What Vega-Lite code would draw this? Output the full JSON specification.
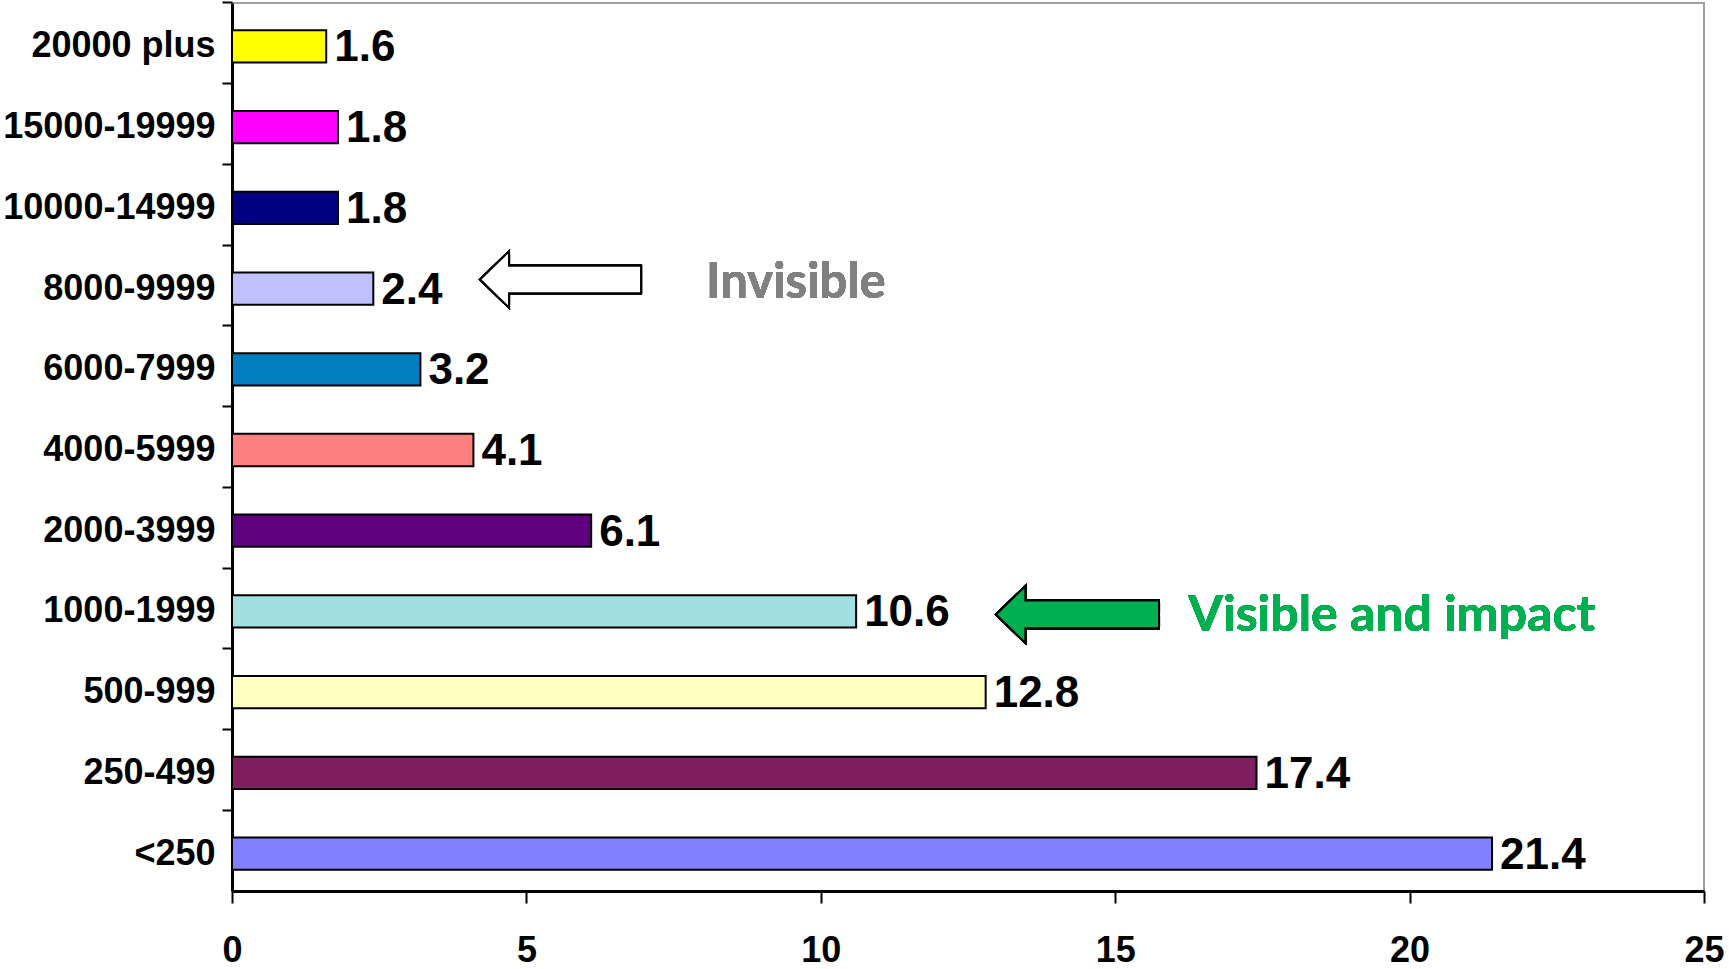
{
  "$schema": "https://vega.github.io/schema/vega-lite/v6.json",
  "autosize": {"type": "none"},
  "width": 1472,
  "height": 888,
  "padding": {"left": 232, "top": 3, "right": 25, "bottom": 78},
  "background": "white",
  "config": {
    "view": {"stroke": "#A0A0A0", "strokeWidth": 2},
    "font": "Liberation Sans"
  },
  "data": {
    "values": [
      {"range": "20000 plus", "pct": 1.6},
      {"range": "15000-19999", "pct": 1.8},
      {"range": "10000-14999", "pct": 1.8},
      {"range": "8000-9999", "pct": 2.4},
      {"range": "6000-7999", "pct": 3.2},
      {"range": "4000-5999", "pct": 4.1},
      {"range": "2000-3999", "pct": 6.1},
      {"range": "1000-1999", "pct": 10.6},
      {"range": "500-999", "pct": 12.8},
      {"range": "250-499", "pct": 17.4},
      {"range": "<250", "pct": 21.4}
    ]
  },
  "layer": [
    {
      "mark": {"type": "bar", "height": {"band": 0.4}, "stroke": "black", "strokeWidth": 2, "yOffset": 3},
      "encoding": {
        "y": {
          "field": "range", "type": "nominal",
          "sort": ["20000 plus", "15000-19999", "10000-14999", "8000-9999", "6000-7999", "4000-5999", "2000-3999", "1000-1999", "500-999", "250-499", "<250"],
          "scale": {"paddingInner": 0, "paddingOuter": 0},
          "axis": {
            "title": null, "bandPosition": 0,
            "domainColor": "black", "domainWidth": 3,
            "tickColor": "black", "tickWidth": 2, "tickSize": 10,
            "labelFont": "Liberation Sans", "labelFontWeight": "bold", "labelFontSize": 36,
            "labelColor": "black", "labelPadding": 7, "labelLimit": 400,
            "labelOffset": 3
          }
        },
        "x": {
          "field": "pct", "type": "quantitative",
          "scale": {"domain": [0, 25], "nice": false},
          "axis": {
            "title": null, "values": [0, 5, 10, 15, 20, 25], "format": "d", "grid": false,
            "domainColor": "black", "domainWidth": 3,
            "tickColor": "black", "tickWidth": 2, "tickSize": 12,
            "labelFont": "Liberation Sans", "labelFontWeight": "bold", "labelFontSize": 36,
            "labelColor": "black", "labelPadding": 30, "labelFlush": false
          }
        },
        "color": {
          "field": "range", "type": "nominal", "legend": null,
          "scale": {
            "domain": ["20000 plus", "15000-19999", "10000-14999", "8000-9999", "6000-7999", "4000-5999", "2000-3999", "1000-1999", "500-999", "250-499", "<250"],
            "range": ["#FFFF00", "#FF00FF", "#000080", "#C0C0FF", "#0080C0", "#FF8080", "#5F007F", "#A0E0E0", "#FFFFC0", "#7F1F5F", "#8080FF"]
          }
        }
      }
    },
    {
      "mark": {"type": "text", "align": "left", "baseline": "middle", "dx": 8, "dy": 2, "yOffset": 3, "font": "Liberation Sans", "fontWeight": "bold", "fontSize": 44, "color": "black"},
      "encoding": {
        "y": {"field": "range", "type": "nominal", "sort": ["20000 plus", "15000-19999", "10000-14999", "8000-9999", "6000-7999", "4000-5999", "2000-3999", "1000-1999", "500-999", "250-499", "<250"]},
        "x": {"field": "pct", "type": "quantitative"},
        "text": {"field": "pct", "type": "quantitative", "format": ".1f"}
      }
    },
    {
      "mark": {"type": "point", "filled": true, "fill": "white", "stroke": "black", "strokeWidth": 2, "opacity": 1,
        "shape": "M -1 0 L -0.64 -0.35 L -0.64 -0.17 L 1 -0.17 L 1 0.17 L -0.64 0.17 L -0.64 0.35 Z",
        "size": 25921, "yOffset": -6},
      "encoding": {
        "x": {"datum": 5.58, "type": "quantitative"},
        "y": {"datum": "8000-9999", "type": "nominal"}
      }
    },
    {
      "mark": {"type": "point", "filled": true, "fill": "#00B050", "stroke": "black", "strokeWidth": 2, "opacity": 1,
        "shape": "M -1 0 L -0.64 -0.35 L -0.64 -0.17 L 1 -0.17 L 1 0.17 L -0.64 0.17 L -0.64 0.35 Z",
        "size": 26569, "yOffset": 6},
      "encoding": {
        "x": {"datum": 14.36, "type": "quantitative"},
        "y": {"datum": "1000-1999", "type": "nominal"}
      }
    },
    {
      "mark": {"type": "text", "align": "left", "baseline": "middle", "font": "Lato", "fontWeight": "bold", "fontSize": 49, "color": "#808080", "yOffset": -3},
      "encoding": {
        "x": {"datum": 8.05, "type": "quantitative"},
        "y": {"datum": "8000-9999", "type": "nominal"},
        "text": {"value": "Invisible"}
      }
    },
    {
      "mark": {"type": "text", "align": "left", "baseline": "middle", "font": "Lato", "fontWeight": "bold", "fontSize": 50, "color": "#00B050", "yOffset": 8},
      "encoding": {
        "x": {"datum": 16.24, "type": "quantitative"},
        "y": {"datum": "1000-1999", "type": "nominal"},
        "text": {"value": "Visible and impact"}
      }
    }
  ]
}
